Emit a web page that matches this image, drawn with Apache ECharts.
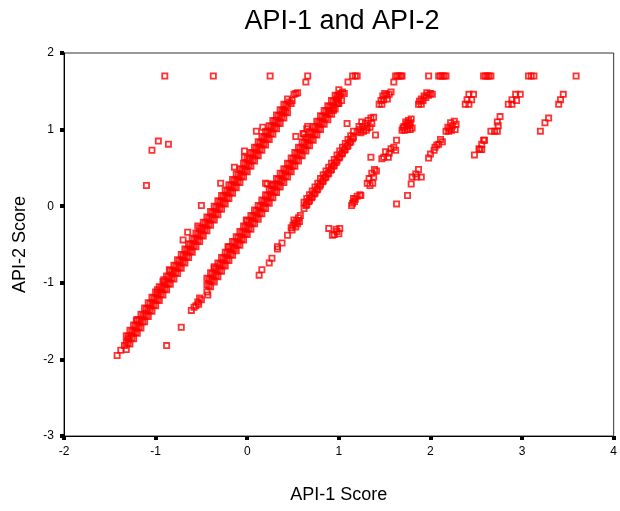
<!DOCTYPE html>
<html>
<head>
<meta charset="utf-8">
<title>API-1 and API-2</title>
<script src="https://cdn.jsdelivr.net/npm/echarts@6/dist/echarts.min.js"></script>
<style>
  html, body { margin: 0; padding: 0; background: #fff; }
  #chart { width: 620px; height: 511px; }
</style>
</head>
<body>
<div id="chart"></div>
<script>
// dense diagonal band 1 (overlapping rows of points)
const band1X = [-1.32,-1.28,-1.24,-1.2,-1.16,-1.12,-1.08,-1.04,-1,-0.96,-0.92,-0.88,-0.84,-0.8,-0.76,-0.72,-0.68,-0.64,-0.6,-0.56,-0.52,-0.48,-0.44,-0.4,-0.36,-0.32,-0.28,-0.24,-0.2,-0.16,-0.12,-0.08,-0.04,0,0.04,0.08,0.12,0.16,0.2,0.24,0.28,0.32,0.36,0.4,0.44]
const band1Mid = [-1.78,-1.71,-1.64,-1.57,-1.5,-1.42,-1.35,-1.28,-1.21,-1.14,-1.07,-1,-0.93,-0.86,-0.79,-0.72,-0.65,-0.58,-0.51,-0.44,-0.37,-0.3,-0.23,-0.16,-0.09,-0.02,0.05,0.12,0.19,0.26,0.33,0.4,0.47,0.54,0.61,0.68,0.75,0.82,0.89,0.96,1.03,1.1,1.17,1.24,1.31]
const band1Hi = [-1.69,-1.62,-1.55,-1.48,-1.41,-1.33,-1.26,-1.19,-1.12,-1.05,-0.98,-0.91,-0.84,-0.77,-0.7,-0.63,-0.56,-0.49,-0.42,-0.35,-0.28,-0.21,-0.14,-0.07,0,0.07,0.14,0.21,0.28,0.35,0.42,0.49,0.56,0.63,0.7,0.77,0.84,0.91,0.98,1.05,1.12,1.19,1.26,1.33,1.4]
const band1Lo = [-1.87,-1.8,-1.73,-1.66,-1.59,-1.51,-1.44,-1.37,-1.3,-1.23,-1.16,-1.09,-1.02,-0.95,-0.88,-0.81,-0.74,-0.67,-0.6,-0.53,-0.46,-0.39,-0.32,-0.25,-0.18,-0.11,-0.04,0.03,0.1,0.17,0.24,0.31,0.38,0.45,0.52,0.59,0.66,0.73,0.8,0.87,0.94,1.01,1.08,1.15,1.22]
const band1HalfX = [-1.3,-1.26,-1.22,-1.18,-1.14,-1.1,-1.06,-1.02,-0.98,-0.94,-0.9,-0.86,-0.82,-0.78,-0.74,-0.7,-0.66,-0.62,-0.58,-0.54,-0.5,-0.46,-0.42,-0.38,-0.34,-0.3,-0.26,-0.22,-0.18,-0.14,-0.1,-0.06,-0.02,0.02,0.06,0.1,0.14,0.18,0.22,0.26,0.3,0.34,0.38,0.42]
const band1Up = [-1.7,-1.63,-1.56,-1.49,-1.42,-1.34,-1.27,-1.2,-1.13,-1.06,-0.99,-0.92,-0.85,-0.78,-0.71,-0.64,-0.57,-0.5,-0.43,-0.36,-0.29,-0.22,-0.15,-0.08,-0.01,0.06,0.13,0.2,0.27,0.34,0.41,0.48,0.55,0.62,0.69,0.76,0.83,0.9,0.97,1.04,1.11,1.18,1.25,1.32]
const band1Down = [-1.79,-1.72,-1.65,-1.58,-1.51,-1.43,-1.36,-1.29,-1.22,-1.15,-1.08,-1.01,-0.94,-0.87,-0.8,-0.73,-0.66,-0.59,-0.52,-0.45,-0.38,-0.31,-0.24,-0.17,-0.1,-0.03,0.04,0.11,0.18,0.25,0.32,0.39,0.46,0.53,0.6,0.67,0.74,0.81,0.88,0.95,1.02,1.09,1.16,1.23]

// dense diagonal band 2
const band2X = [-0.44,-0.4,-0.36,-0.32,-0.28,-0.24,-0.2,-0.16,-0.12,-0.08,-0.04,0,0.04,0.08,0.12,0.16,0.2,0.24,0.28,0.32,0.36,0.4,0.44,0.48,0.52,0.56,0.6,0.64,0.68,0.72,0.76,0.8,0.84,0.88,0.92,0.96,1]
const band2Mid = [-1.03,-0.96,-0.9,-0.83,-0.76,-0.69,-0.62,-0.55,-0.49,-0.42,-0.35,-0.28,-0.21,-0.14,-0.08,-0.01,0.06,0.13,0.2,0.27,0.34,0.4,0.47,0.54,0.61,0.68,0.75,0.81,0.88,0.95,1.02,1.09,1.16,1.22,1.29,1.36,1.43]
const band2Hi = [-0.94,-0.87,-0.81,-0.74,-0.67,-0.6,-0.53,-0.46,-0.4,-0.33,-0.26,-0.19,-0.12,-0.05,0.01,0.08,0.15,0.22,0.29,0.36,0.43,0.49,0.56,0.63,0.7,0.77,0.84,0.9,0.97,1.04,1.11,1.18,1.25,1.31,1.38,1.45,1.52]
const band2Lo = [-1.12,-1.05,-0.99,-0.92,-0.85,-0.78,-0.71,-0.64,-0.58,-0.51,-0.44,-0.37,-0.3,-0.23,-0.17,-0.1,-0.03,0.04,0.11,0.18,0.25,0.31,0.38,0.45,0.52,0.59,0.66,0.72,0.79,0.86,0.93,1,1.07,1.13,1.2,1.27,1.34]
const band2HalfX = [-0.42,-0.38,-0.34,-0.3,-0.26,-0.22,-0.18,-0.14,-0.1,-0.06,-0.02,0.02,0.06,0.1,0.14,0.18,0.22,0.26,0.3,0.34,0.38,0.42,0.46,0.5,0.54,0.58,0.62,0.66,0.7,0.74,0.78,0.82,0.86,0.9,0.94,0.98]
const band2Up = [-0.95,-0.88,-0.82,-0.75,-0.68,-0.61,-0.54,-0.47,-0.41,-0.34,-0.27,-0.2,-0.13,-0.06,0,0.07,0.14,0.21,0.28,0.35,0.42,0.48,0.55,0.62,0.69,0.76,0.83,0.89,0.96,1.03,1.1,1.17,1.24,1.3,1.37,1.44]
const band2Down = [-1.04,-0.97,-0.91,-0.84,-0.77,-0.7,-0.63,-0.56,-0.5,-0.43,-0.36,-0.29,-0.22,-0.15,-0.09,-0.02,0.05,0.12,0.19,0.26,0.33,0.39,0.46,0.53,0.6,0.67,0.74,0.8,0.87,0.94,1.01,1.08,1.15,1.21,1.28,1.35]

// middle run of band 3
const band3X = [0.62,0.65,0.68,0.71,0.74,0.77,0.8,0.83,0.86,0.89,0.92,0.95,0.98,1.01,1.04,1.07,1.1,1.13,1.16]
const band3Mid = [-0.03,0.02,0.07,0.12,0.17,0.22,0.28,0.33,0.38,0.43,0.48,0.53,0.59,0.64,0.69,0.74,0.79,0.84,0.9]
const band3Hi = [0.05,0.1,0.15,0.2,0.25,0.3,0.36,0.41,0.46,0.51,0.56,0.61,0.67,0.72,0.77,0.82,0.87,0.92,0.98]
const band3HalfX = [0.64,0.67,0.7,0.73,0.76,0.79,0.82,0.85,0.88,0.91,0.94,0.97,1,1.03,1.06,1.09,1.12,1.15]
const band3Half = [0.01,0.06,0.11,0.16,0.21,0.26,0.32,0.37,0.42,0.47,0.52,0.57,0.63,0.68,0.73,0.78,0.83,0.88]

const band3Pts = [
  [0.13,-0.9],[0.16,-0.83],[0.24,-0.74],[0.27,-0.68],[0.33,-0.56],[0.33,-0.53],[0.38,-0.48],[0.44,-0.38],[0.49,-0.31],
  [0.48,-0.28],[0.5,-0.25],[0.52,-0.22],[0.54,-0.19],[0.56,-0.15],[0.58,-0.12],[0.51,-0.18],[0.55,-0.23],[0.53,-0.27],[0.57,-0.2],
  [1.2,0.97],[1.23,1.0],[1.26,1.04],[1.29,1.08],[1.32,1.12],[1.35,1.15],[1.22,1.04],[1.27,0.98],[1.31,1.02],[1.25,1.1],
  [1.36,1.08],[1.34,1.03],[1.38,1.16],[1.24,0.96],[1.3,0.99],[1.4,0.93],[1.09,1.08],
  [1.44,1.33],[1.47,1.33],[1.46,1.38],[1.49,1.39],[1.52,1.45],[1.55,1.46],[1.57,1.49],[1.5,1.47],[1.53,1.4],[1.48,1.44]
]
const band4Pts = [
  [0.89,-0.29],[0.95,-0.37],[1.0,-0.36],[0.97,-0.3],[1.01,-0.29],[0.93,-0.38],[0.98,-0.33],
  [1.14,0.01],[1.17,0.06],[1.18,0.09],[1.2,0.13],[1.23,0.15],[1.15,0.04],[1.24,0.14],[1.16,0.1],
  [1.31,0.3],[1.37,0.3],[1.33,0.36],[1.38,0.38],[1.41,0.46],[1.36,0.43],[1.34,0.27],[1.39,0.48],[1.35,0.64],
  [1.49,0.64],[1.54,0.64],[1.51,0.71],[1.57,0.75],[1.6,0.77],[1.62,0.73],[1.55,0.69],[1.47,0.62],[1.63,0.86],
  [1.69,0.99],[1.72,0.99],[1.75,1.0],[1.78,1.0],[1.8,1.02],[1.71,1.04],[1.74,1.06],[1.77,1.05],[1.73,1.1],
  [1.76,1.12],[1.79,1.14],[1.7,1.02],[1.75,1.08],[1.78,1.09],
  [1.87,1.33],[1.9,1.33],[1.88,1.37],[1.92,1.38],[1.95,1.42],[1.98,1.45],[2.0,1.47],[1.96,1.48],[2.02,1.46],[1.93,1.44],[1.9,1.4]
]
const band5Pts = [
  [1.63,0.03],[1.75,0.14],[1.79,0.29],[1.8,0.38],[1.85,0.38],[1.9,0.38],[1.87,0.48],[1.84,0.42],
  [1.98,0.63],[2.0,0.68],[2.04,0.73],[2.05,0.77],[2.09,0.81],[2.11,0.87],[2.07,0.8],[2.13,0.84],
  [2.17,0.98],[2.2,0.98],[2.23,0.99],[2.27,1.0],[2.19,1.03],[2.24,1.05],[2.28,1.07],[2.22,1.09],[2.26,1.11],[2.21,1.01],
  [2.38,1.33],[2.42,1.33],[2.4,1.39],[2.45,1.39],[2.42,1.46],[2.47,1.46]
]
const band6Pts = [
  [2.48,0.67],[2.53,0.75],[2.56,0.74],[2.56,0.81],[2.59,0.86],[2.54,0.74],[2.58,0.86],
  [2.66,0.98],[2.7,0.98],[2.73,0.98],[2.74,1.05],[2.73,1.1],[2.76,1.17],
  [2.85,1.33],[2.89,1.33],[2.89,1.39],[2.94,1.38],[2.93,1.46],[2.98,1.46]
]
const band7Pts = [[3.2,0.98],[3.25,1.09],[3.29,1.15],[3.4,1.33],[3.42,1.39],[3.45,1.46]]

// capped scores along the top
const topRowPts = [
  [-0.9,1.7],[-0.37,1.7],[0.25,1.7],[0.66,1.7],[1.15,1.7],[1.18,1.7],[1.2,1.7],
  [1.62,1.7],[1.64,1.7],[1.66,1.7],[1.68,1.7],[1.69,1.7],[1.98,1.7],
  [2.09,1.7],[2.11,1.7],[2.13,1.7],[2.15,1.7],[2.17,1.7],
  [2.58,1.7],[2.6,1.7],[2.62,1.7],[2.64,1.7],[2.66,1.7],
  [3.07,1.7],[3.1,1.7],[3.13,1.7],[3.59,1.7],
  [0.64,1.62],[1.1,1.62],[1.6,1.62]
]

// scattered points around bands 1 and 2
const strayPts = [
  [-0.97,0.85],[-1.04,0.73],[-0.86,0.81],[-1.1,0.27],[-0.88,-1.82],[-0.72,-1.58],
  [-1.42,-1.95],[-1.38,-1.88],[-1.34,-1.82],[-1.3,-1.73],[-1.21,-1.49],
  [-0.5,0.01],[-0.65,-0.34],[-0.7,-0.44],[-0.29,0.3],[-0.14,0.51],[-0.03,0.72],[-0.03,0.64],[0.1,0.98],[0.17,1.03],[0.4,1.24],
  [-0.85,-0.83],[-0.91,-0.96],[-0.98,-1.09],[-0.54,-0.26],
  [0.46,1.36],[0.49,1.38],[0.51,1.46],[0.53,1.47],[0.48,1.34],[0.55,1.48],
  [-0.54,-1.25],[-0.61,-1.36],[-0.43,-1.16],[-0.56,-1.3],[-0.52,-1.2],[-0.5,-1.22],[-0.58,-1.32],[-0.53,-1.28],
  [-0.01,-0.18],[-0.21,-0.53],[-0.36,-0.79],[0.2,0.3],[0.22,0.29],[0.27,0.27],[0.53,0.91],[0.66,1.04],[0.62,0.94],
  [0.61,0.95],[0.65,1.01],[0.89,1.25],[0.94,1.25],
  [0.98,1.4],[1.0,1.45],[1.02,1.47],[1.04,1.49],[1.06,1.47],[0.99,1.34],[1.03,1.38]
]

const zip = (xs, ys) => xs.map((x, i) => [x, ys[i]])

const points = [].concat(
  zip(band1X, band1Mid), zip(band1X, band1Hi), zip(band1X, band1Lo),
  zip(band1HalfX, band1Up), zip(band1HalfX, band1Down),
  zip(band2X, band2Mid), zip(band2X, band2Hi), zip(band2X, band2Lo),
  zip(band2HalfX, band2Up), zip(band2HalfX, band2Down),
  zip(band3X, band3Mid), zip(band3X, band3Hi), zip(band3HalfX, band3Half),
  band3Pts, band4Pts, band5Pts, band6Pts, band7Pts, topRowPts, strayPts
)

const font = '"Liberation Sans", Arial, sans-serif'
const chart = echarts.init(document.getElementById('chart'), null, { renderer: 'canvas' })

const axisCommon = {
  type: 'value',
  interval: 1,
  nameLocation: 'middle',
  nameTextStyle: { fontFamily: font, fontSize: 18, color: '#000' },
  axisLine: { show: true, onZero: false, lineStyle: { color: '#000', width: 1 } },
  axisTick: { show: true, length: 4, lineStyle: { color: '#000', width: 4 } },
  axisLabel: { fontFamily: font, fontSize: 12, color: '#000', margin: 10 },
  splitLine: { show: false }
}

chart.setOption({
  animation: false,
  backgroundColor: '#fff',
  title: {
    text: 'API-1 and API-2',
    left: 337,
    textAlign: 'center',
    top: 3,
    textStyle: { fontFamily: font, fontSize: 27, fontWeight: 'normal', color: '#000' }
  },
  grid: {
    left: 64, right: 5, top: 53, bottom: 75,
    show: true, borderColor: '#333', borderWidth: 1
  },
  xAxis: Object.assign({}, axisCommon, {
    min: -2, max: 4, name: 'API-1 Score', nameGap: 50
  }),
  yAxis: Object.assign({}, axisCommon, {
    min: -3, max: 2, name: 'API-2 Score', nameGap: 35
  }),
  series: [{
    type: 'scatter',
    data: points,
    symbol: 'rect',
    symbolSize: 5.2,
    itemStyle: { color: 'transparent', borderColor: '#ff0000', borderWidth: 1.8 },
    emphasis: { disabled: true },
    silent: true
  }]
})
</script>
</body>
</html>
